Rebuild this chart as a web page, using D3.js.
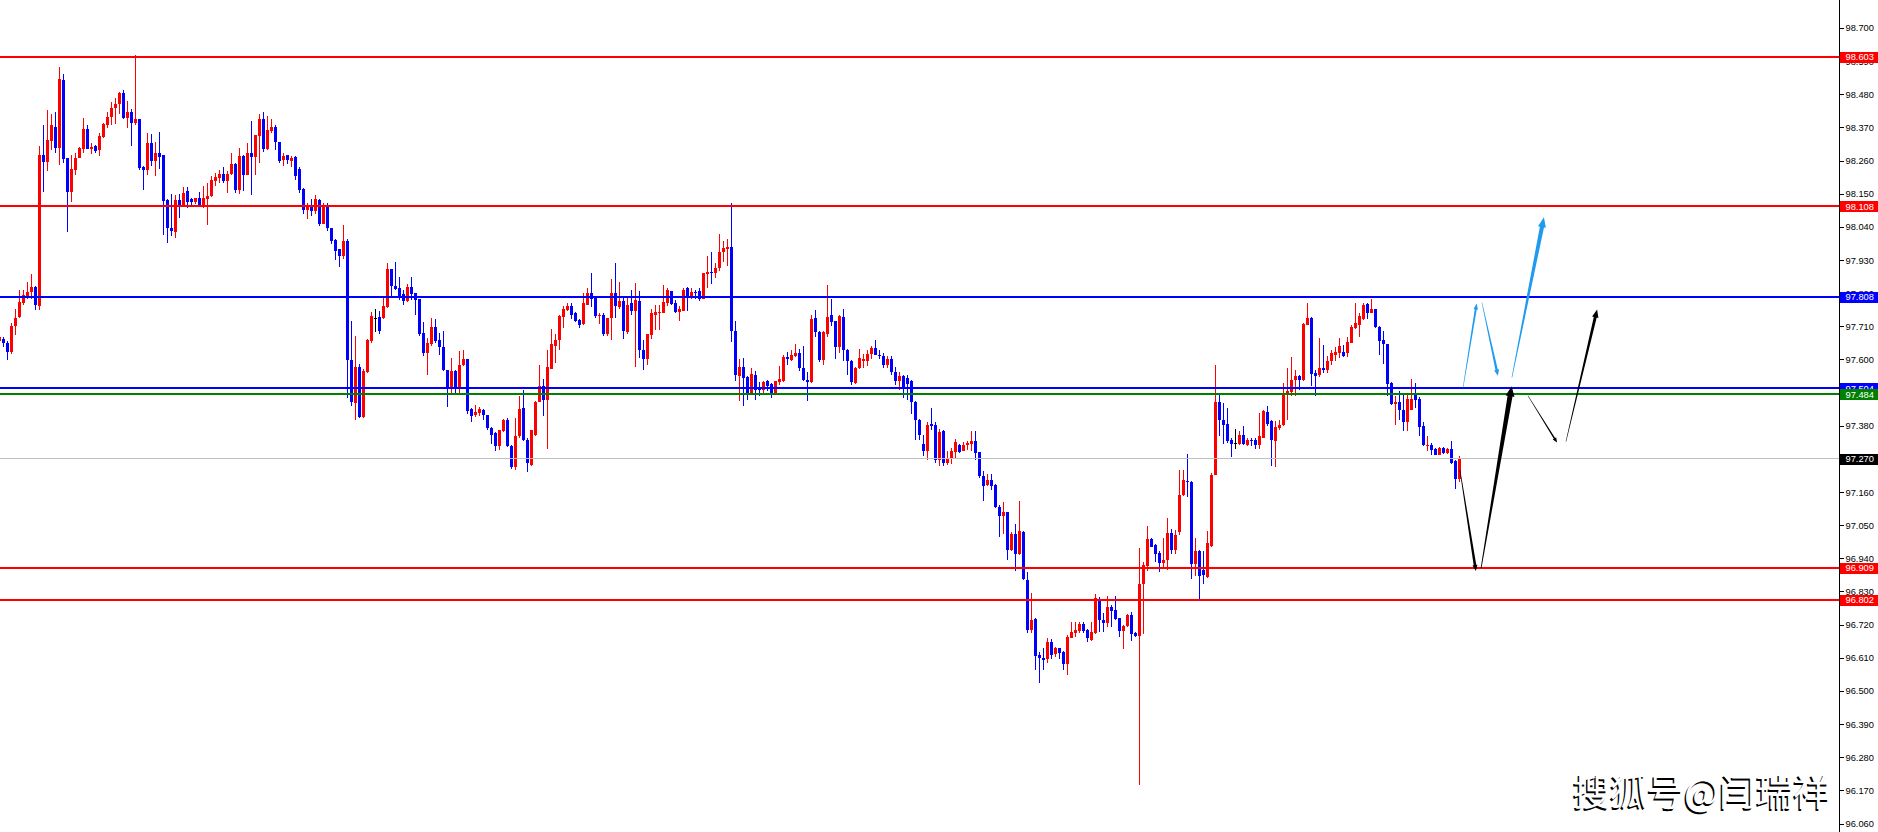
<!DOCTYPE html>
<html><head><meta charset="utf-8">
<script src="https://cdn.jsdelivr.net/npm/d3@7"></script>
<style>
html,body{margin:0;padding:0;background:#fff;overflow:hidden;}
svg{display:block;}
</style></head>
<body>
<svg id="chart" width="1878" height="832"></svg>
<script>
// ---------------- DATA ----------------
const opens = [
97.660,97.669,97.653,97.624,97.710,97.740,97.787,97.812,97.823,97.839,
97.777,98.277,98.255,98.325,98.373,98.302,98.527,98.267,98.156,98.229,
98.270,98.300,98.366,98.297,98.308,98.295,98.338,98.378,98.405,98.433,
98.449,98.483,98.400,98.421,98.384,98.397,98.238,98.229,98.317,98.258,
98.284,98.277,98.128,98.035,98.023,98.128,98.112,98.158,98.131,98.122,
98.135,98.112,98.133,98.142,98.192,98.203,98.216,98.192,98.214,98.248,
98.161,98.274,98.213,98.286,98.272,98.342,98.397,98.297,98.358,98.370,
98.322,98.262,98.277,98.259,98.272,98.233,98.165,98.096,98.112,98.092,
98.128,98.051,98.112,98.037,97.995,97.965,97.943,97.993,97.597,97.456,
97.575,97.409,97.560,97.660,97.738,97.740,97.737,97.774,97.899,97.843,
97.837,97.816,97.793,97.841,97.819,97.799,97.688,97.620,97.650,97.707,
97.664,97.642,97.566,97.508,97.561,97.508,97.581,97.600,97.434,97.416,
97.421,97.433,97.417,97.374,97.356,97.314,97.362,97.400,97.314,97.242,
97.345,97.439,97.334,97.251,97.350,97.460,97.511,97.467,97.569,97.646,
97.664,97.742,97.764,97.777,97.755,97.730,97.719,97.782,97.819,97.808,
97.743,97.747,97.685,97.736,97.821,97.774,97.794,97.692,97.786,97.762,
97.794,97.630,97.601,97.681,97.749,97.753,97.753,97.786,97.826,97.788,
97.757,97.762,97.836,97.803,97.825,97.827,97.802,97.882,97.891,97.886,
97.902,97.957,97.965,97.974,97.696,97.545,97.575,97.541,97.489,97.550,
97.505,97.497,97.530,97.519,97.489,97.525,97.530,97.609,97.597,97.613,
97.620,97.573,97.533,97.525,97.736,97.691,97.597,97.685,97.746,97.727,
97.641,97.741,97.633,97.596,97.522,97.572,97.594,97.594,97.618,97.638,
97.616,97.611,97.580,97.600,97.560,97.530,97.545,97.540,97.528,97.459,
97.400,97.319,97.295,97.386,97.384,97.267,97.361,97.258,97.270,97.292,
97.317,97.297,97.315,97.320,97.328,97.292,97.214,97.183,97.199,97.184,
97.112,97.079,97.093,96.966,97.021,96.955,97.029,96.868,96.702,96.738,
96.619,96.610,96.605,96.663,96.622,96.643,96.630,96.589,96.677,96.693,
96.700,96.721,96.702,96.669,96.691,96.802,96.735,96.726,96.777,96.768,
96.741,96.700,96.717,96.752,96.691,96.683,96.855,96.916,97.005,96.985,
96.957,96.926,96.933,97.023,96.966,97.029,97.151,97.197,97.193,96.922,
96.963,96.901,96.879,96.982,97.217,97.458,97.400,97.387,97.334,97.322,
97.320,97.350,97.317,97.334,97.334,97.317,97.341,97.425,97.395,97.328,
97.371,97.381,97.481,97.492,97.531,97.546,97.531,97.716,97.736,97.555,
97.550,97.570,97.564,97.594,97.616,97.622,97.624,97.622,97.655,97.705,
97.716,97.735,97.785,97.755,97.766,97.708,97.663,97.650,97.522,97.453,
97.458,97.431,97.391,97.433,97.487,97.470,97.378,97.312,97.317,97.304,
97.284,97.306,97.289,97.303,97.262,97.203];

const highs = [
97.676,97.674,97.660,97.721,97.766,97.832,97.832,97.856,97.882,97.843,
98.308,98.377,98.428,98.414,98.421,98.572,98.547,98.270,98.277,98.286,
98.306,98.400,98.377,98.320,98.313,98.351,98.384,98.421,98.455,98.469,
98.489,98.495,98.458,98.430,98.612,98.397,98.242,98.351,98.347,98.322,
98.355,98.277,98.131,98.150,98.147,98.150,98.172,98.172,98.135,98.137,
98.155,98.174,98.184,98.209,98.220,98.229,98.239,98.225,98.284,98.251,
98.302,98.277,98.317,98.391,98.344,98.414,98.421,98.408,98.397,98.377,
98.322,98.286,98.280,98.275,98.275,98.240,98.170,98.120,98.132,98.145,
98.132,98.120,98.120,98.037,97.999,97.965,98.045,97.999,97.727,97.677,
97.586,97.567,97.668,97.758,97.769,97.760,97.812,97.919,97.901,97.923,
97.873,97.832,97.851,97.875,97.821,97.801,97.725,97.672,97.738,97.735,
97.688,97.694,97.566,97.605,97.566,97.627,97.633,97.603,97.439,97.450,
97.442,97.437,97.417,97.376,97.358,97.365,97.403,97.406,97.317,97.406,
97.480,97.497,97.339,97.367,97.463,97.583,97.535,97.630,97.700,97.686,
97.749,97.777,97.788,97.788,97.757,97.733,97.821,97.838,97.886,97.810,
97.755,97.755,97.738,97.866,97.921,97.858,97.805,97.807,97.829,97.855,
97.827,97.666,97.685,97.769,97.782,97.782,97.847,97.836,97.827,97.796,
97.777,97.836,97.840,97.838,97.832,97.838,97.888,97.943,97.957,97.921,
98.017,97.993,97.999,98.120,97.729,97.600,97.605,97.544,97.572,97.561,
97.525,97.528,97.531,97.522,97.530,97.577,97.614,97.624,97.630,97.650,
97.636,97.646,97.557,97.747,97.763,97.694,97.694,97.846,97.799,97.729,
97.749,97.769,97.636,97.598,97.575,97.636,97.619,97.630,97.646,97.666,
97.630,97.620,97.612,97.610,97.575,97.560,97.550,97.548,97.533,97.461,
97.402,97.350,97.391,97.439,97.391,97.369,97.367,97.295,97.306,97.336,
97.320,97.326,97.328,97.364,97.364,97.292,97.231,97.220,97.220,97.187,
97.118,97.126,97.095,97.029,97.054,97.131,97.032,96.894,96.824,96.741,
96.630,96.643,96.677,96.671,96.647,96.643,96.632,96.685,96.728,96.730,
96.728,96.728,96.705,96.728,96.822,96.811,96.758,96.816,96.785,96.815,
96.743,96.719,96.754,96.763,96.694,96.974,96.929,97.048,97.007,96.987,
96.965,97.007,97.073,97.037,97.035,97.234,97.234,97.287,97.195,97.007,
96.968,96.963,97.032,97.223,97.583,97.483,97.456,97.439,97.339,97.369,
97.361,97.378,97.339,97.339,97.339,97.422,97.433,97.447,97.400,97.395,
97.398,97.522,97.570,97.607,97.566,97.550,97.721,97.788,97.740,97.566,
97.672,97.649,97.611,97.630,97.641,97.672,97.649,97.674,97.713,97.788,
97.755,97.786,97.788,97.799,97.768,97.710,97.696,97.652,97.524,97.478,
97.494,97.485,97.489,97.535,97.522,97.476,97.392,97.345,97.323,97.306,
97.308,97.308,97.306,97.330,97.265,97.278];

const lows = [
97.655,97.640,97.597,97.618,97.680,97.738,97.780,97.799,97.801,97.763,
97.763,98.156,98.225,98.294,98.286,98.245,98.251,98.023,98.122,98.212,
98.267,98.286,98.297,98.281,98.285,98.275,98.334,98.369,98.379,98.383,
98.414,98.397,98.368,98.308,98.378,98.228,98.164,98.212,98.242,98.209,
98.231,98.012,97.986,98.009,98.003,98.068,98.109,98.104,98.109,98.115,
98.106,98.104,98.046,98.140,98.176,98.184,98.187,98.151,98.211,98.151,
98.148,98.159,98.212,98.146,98.212,98.251,98.289,98.295,98.353,98.295,
98.252,98.242,98.248,98.239,98.196,98.154,98.082,98.065,98.076,98.082,
98.043,98.048,98.026,97.982,97.930,97.907,97.934,97.472,97.447,97.400,
97.405,97.405,97.555,97.655,97.691,97.686,97.735,97.770,97.810,97.832,
97.796,97.780,97.792,97.796,97.749,97.677,97.611,97.550,97.646,97.653,
97.614,97.561,97.442,97.489,97.489,97.489,97.578,97.420,97.391,97.409,
97.411,97.400,97.367,97.320,97.295,97.298,97.358,97.309,97.236,97.234,
97.339,97.328,97.225,97.247,97.347,97.458,97.414,97.303,97.567,97.589,
97.633,97.705,97.760,97.733,97.724,97.705,97.716,97.780,97.774,97.738,
97.719,97.679,97.677,97.666,97.738,97.766,97.669,97.685,97.747,97.574,
97.605,97.564,97.583,97.669,97.699,97.699,97.753,97.777,97.782,97.754,
97.729,97.760,97.762,97.799,97.802,97.794,97.802,97.838,97.849,97.869,
97.893,97.924,97.910,97.657,97.528,97.461,97.444,97.467,97.483,97.467,
97.478,97.483,97.494,97.472,97.483,97.516,97.525,97.580,97.594,97.609,
97.561,97.528,97.461,97.522,97.674,97.591,97.583,97.674,97.710,97.600,
97.622,97.594,97.550,97.516,97.519,97.569,97.572,97.578,97.600,97.614,
97.600,97.570,97.570,97.550,97.515,97.500,97.472,97.464,97.419,97.332,
97.334,97.278,97.267,97.367,97.258,97.245,97.245,97.251,97.253,97.270,
97.289,97.295,97.300,97.295,97.267,97.205,97.131,97.179,97.167,97.107,
97.012,97.021,96.935,96.963,96.899,96.951,96.868,96.691,96.691,96.571,
96.527,96.569,96.594,96.606,96.613,96.605,96.569,96.553,96.674,96.680,
96.691,96.691,96.663,96.667,96.688,96.697,96.697,96.713,96.713,96.735,
96.680,96.638,96.713,96.667,96.680,96.187,96.689,96.899,96.976,96.929,
96.896,96.904,96.902,96.955,96.955,97.018,97.148,97.145,96.871,96.882,
96.804,96.855,96.874,96.979,97.217,97.345,97.320,97.323,97.275,97.303,
97.315,97.315,97.314,97.314,97.303,97.303,97.339,97.378,97.245,97.242,
97.367,97.378,97.400,97.478,97.478,97.500,97.528,97.716,97.513,97.478,
97.542,97.555,97.555,97.583,97.594,97.605,97.607,97.607,97.653,97.702,
97.674,97.730,97.733,97.753,97.705,97.616,97.586,97.478,97.450,97.384,
97.400,97.361,97.361,97.431,97.439,97.347,97.312,97.295,97.284,97.282,
97.282,97.287,97.286,97.254,97.171,97.192];

const closes = [
97.674,97.654,97.624,97.712,97.739,97.792,97.814,97.825,97.842,97.780,
98.277,98.255,98.327,98.377,98.302,98.530,98.266,98.156,98.231,98.270,
98.302,98.366,98.300,98.305,98.292,98.341,98.380,98.405,98.434,98.449,
98.483,98.400,98.421,98.386,98.397,98.235,98.229,98.317,98.259,98.284,
98.272,98.126,98.035,98.025,98.128,98.112,98.153,98.122,98.122,98.135,
98.112,98.137,98.144,98.194,98.205,98.214,98.192,98.216,98.248,98.161,
98.274,98.213,98.286,98.272,98.344,98.397,98.297,98.361,98.370,98.322,
98.257,98.274,98.262,98.270,98.209,98.162,98.096,98.112,98.092,98.132,
98.051,98.112,98.037,97.993,97.960,97.943,97.993,97.597,97.458,97.575,
97.409,97.563,97.666,97.744,97.738,97.696,97.777,97.899,97.843,97.835,
97.810,97.793,97.841,97.816,97.797,97.683,97.620,97.653,97.707,97.661,
97.642,97.566,97.508,97.561,97.508,97.583,97.603,97.428,97.414,97.425,
97.437,97.416,97.372,97.350,97.312,97.365,97.400,97.312,97.242,97.347,
97.436,97.334,97.256,97.365,97.460,97.511,97.467,97.575,97.650,97.666,
97.744,97.766,97.777,97.747,97.727,97.716,97.786,97.821,97.801,97.743,
97.747,97.685,97.736,97.821,97.777,97.794,97.694,97.782,97.762,97.796,
97.630,97.601,97.683,97.753,97.757,97.757,97.791,97.829,97.785,97.757,
97.766,97.832,97.805,97.825,97.819,97.802,97.886,97.891,97.886,97.904,
97.957,97.969,97.973,97.694,97.548,97.575,97.539,97.489,97.552,97.497,
97.497,97.524,97.513,97.489,97.528,97.536,97.609,97.600,97.616,97.620,
97.570,97.531,97.525,97.733,97.691,97.597,97.691,97.741,97.724,97.641,
97.744,97.631,97.594,97.524,97.572,97.605,97.600,97.619,97.638,97.616,
97.611,97.580,97.600,97.560,97.530,97.545,97.510,97.520,97.458,97.398,
97.350,97.295,97.384,97.378,97.267,97.358,97.258,97.273,97.295,97.327,
97.293,97.317,97.323,97.328,97.289,97.212,97.181,97.201,97.179,97.109,
97.079,97.093,96.968,97.021,96.955,97.031,96.871,96.702,96.735,96.616,
96.610,96.602,96.663,96.619,96.641,96.627,96.589,96.680,96.694,96.702,
96.721,96.700,96.677,96.694,96.807,96.735,96.726,96.777,96.765,96.739,
96.700,96.717,96.752,96.689,96.683,96.855,96.918,97.005,96.979,96.954,
96.926,96.935,97.023,96.968,97.018,97.151,97.201,97.192,96.922,96.963,
96.883,96.885,96.990,97.217,97.458,97.398,97.384,97.331,97.320,97.322,
97.348,97.320,97.334,97.328,97.315,97.345,97.428,97.387,97.332,97.375,
97.384,97.483,97.494,97.533,97.546,97.533,97.719,97.736,97.553,97.546,
97.570,97.564,97.596,97.622,97.624,97.646,97.611,97.658,97.707,97.722,
97.744,97.782,97.755,97.766,97.708,97.661,97.650,97.520,97.453,97.459,
97.431,97.391,97.469,97.470,97.464,97.376,97.315,97.317,97.300,97.284,
97.306,97.289,97.304,97.256,97.203,97.270];

// Price axis tick labels
const tickValues = [98.700,98.590,98.480,98.370,98.260,98.150,98.040,97.930,97.820,97.710,97.600,97.490,
  97.380,97.270,97.160,97.050,96.940,96.830,96.720,96.610,96.500,96.390,96.280,96.170,96.060];

// Horizontal levels drawn on the chart
const levelValues = [98.603, 98.108, 97.808, 97.504, 97.484, 96.909, 96.802];
const levelKinds  = ["red","red","blue","blue","green","red","red"];

// Forecast arrows: [candle index, price] start and end
const arrowStarts = [[365.1,97.234],[370.4,96.908],[365.9,97.507],[370.6,97.789],[378.1,97.540],[382.1,97.480],[391.6,97.327]];
const arrowEnds   = [[369.1,96.898],[378.05,97.511],[369.3,97.786],[374.6,97.546],[386.1,98.072],[389.4,97.324],[399.4,97.766]];
const arrowKinds  = ["black","black","sky","sky","sky","black","black"];

const watermark = "搜狐号@闫瑞祥";

// ---------------- STYLE ----------------
const W = 1878, H = 832, axisX = 1839;
const colorOf = {red:"#ff0000", blue:"#0000ff", green:"#008000", black:"#000000", sky:"#1e9bef"};
const arrowSizes = [ // w0, w1, headLen, headWidth
  [0.6,2.6,6,5],[0.8,5,10,9],[0.5,2,6,4.5],[0.5,2.4,6,5],[0.6,4.2,10,8],[0.4,1.6,5,4],[0.5,3,8,6.5]];

const svg = d3.select("#chart");
svg.append("rect").attr("width",W).attr("height",H).attr("fill","#fff");

const x = d3.scaleLinear().domain([0, 365]).range([-0.5, 1459.5]);
const y = d3.scaleLinear().domain([96.06, 98.70]).range([823.5, 28]);

const candles = opens.map((o,i)=>({i, o, h:highs[i], l:lows[i], c:closes[i]}));
const col = d => d.c > d.o ? colorOf.red : (d.c < d.o ? colorOf.blue : colorOf.black);

const gC = svg.append("g").attr("shape-rendering","crispEdges");
gC.selectAll("line.wick").data(candles).join("line")
  .attr("x1", d=>x(d.i)).attr("x2", d=>x(d.i))
  .attr("y1", d=>y(d.h)).attr("y2", d=>y(d.l))
  .attr("stroke", col).attr("stroke-width",1);
gC.selectAll("rect.body").data(candles).join("rect")
  .attr("x", d=>x(d.i)-1.5).attr("width",3)
  .attr("y", d=>Math.min(y(d.o),y(d.c)))
  .attr("height", d=>Math.max(1, Math.abs(y(d.o)-y(d.c))))
  .attr("fill", col);

// current price line
const last = closes[closes.length-1];
svg.append("line").attr("x1",0).attr("x2",axisX).attr("y1",y(last)).attr("y2",y(last))
  .attr("stroke","#c0c0c0").attr("stroke-width",1).attr("shape-rendering","crispEdges");

// level lines
const levels = levelValues.map((v,i)=>({v, k:levelKinds[i]}));
svg.append("g").attr("shape-rendering","crispEdges").selectAll("line").data(levels).join("line")
  .attr("x1",0).attr("x2",axisX).attr("y1",d=>y(d.v)).attr("y2",d=>y(d.v))
  .attr("stroke",d=>colorOf[d.k]).attr("stroke-width",2);

// arrows
function arrowPath(p0,p1,s){
  const x0=x(p0[0]), y0=y(p0[1]), x1=x(p1[0]), y1=y(p1[1]);
  const dx=x1-x0, dy=y1-y0, L=Math.hypot(dx,dy), ux=dx/L, uy=dy/L, nx=-uy, ny=ux;
  const [w0,w1,hl,hw]=s;
  const bx=x1-ux*hl, by=y1-uy*hl;
  const pts=[[x0+nx*w0/2,y0+ny*w0/2],[bx+nx*w1/2,by+ny*w1/2],[bx+nx*hw/2,by+ny*hw/2],[x1,y1],
    [bx-nx*hw/2,by-ny*hw/2],[bx-nx*w1/2,by-ny*w1/2],[x0-nx*w0/2,y0-ny*w0/2]];
  return "M"+pts.map(p=>p[0].toFixed(2)+","+p[1].toFixed(2)).join("L")+"Z";
}
svg.append("g").selectAll("path").data(arrowStarts).join("path")
  .attr("d",(d,i)=>arrowPath(d, arrowEnds[i], arrowSizes[i]))
  .attr("fill",(d,i)=>colorOf[arrowKinds[i]]);

// axis
svg.append("line").attr("x1",axisX+0.5).attr("x2",axisX+0.5).attr("y1",0).attr("y2",H)
  .attr("stroke","#000").attr("stroke-width",1).attr("shape-rendering","crispEdges");
const axis = d3.axisRight(y).tickValues(tickValues).tickFormat(d3.format(".3f"))
  .tickSize(4).tickPadding(2).tickSizeOuter(0);
const gA = svg.append("g").attr("transform",`translate(${axisX+0.5},0)`).call(axis);
gA.select(".domain").remove();
gA.selectAll(".tick line").attr("stroke","#000").attr("shape-rendering","crispEdges");
gA.selectAll(".tick text").attr("fill","#000")
  .style("font-family","'Liberation Sans', Arial, sans-serif").style("font-size","9.3px");

// price labels on axis
const tags = levels.map(d=>({v:d.v, c:colorOf[d.k]}));
tags.splice(5,0,{v:last, c:"#000"});
const gT = svg.append("g");
tags.forEach(t=>{
  const yy = y(t.v);
  gT.append("rect").attr("x",axisX+1).attr("y",Math.round(yy)-5).attr("width",W-axisX-1).attr("height",11)
    .attr("fill",t.c).attr("shape-rendering","crispEdges");
  gT.append("text").attr("x",axisX+6.5).attr("y",yy).attr("dy","0.34em")
    .attr("fill","#fff").style("font-family","'Liberation Sans', Arial, sans-serif").style("font-size","9.3px")
    .text(d3.format(".3f")(t.v));
});

// watermark
const wm = svg.append("g").style("font-family","'Noto Sans CJK SC', sans-serif").style("font-size","37px");
wm.append("text").attr("x",1573-1.5).attr("y",806+1.5).attr("fill","#000").text(watermark);
wm.append("text").attr("x",1573).attr("y",806).attr("fill","#fff").text(watermark);
</script>
</body></html>
